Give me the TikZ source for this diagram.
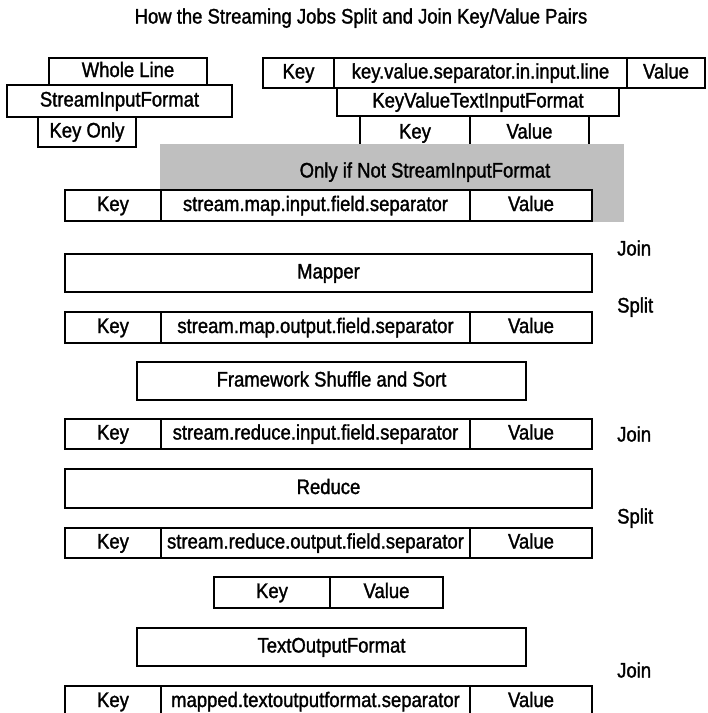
\documentclass[tikz,border=0pt]{standalone}
\usepackage{fontspec}
\setmainfont[FakeStretch=0.88,FakeBold=1.4]{Liberation Sans}
\usetikzlibrary{positioning}
\tikzset{cell/.style={rectangle,draw=black,fill=white,line width=1.6pt,inner sep=0pt,outer sep=0pt,align=center,text height=15pt,text depth=4pt,font=\fontsize{21}{23}\selectfont}}
\tikzset{side/.style={anchor=west,inner sep=0pt,text height=15pt,text depth=4pt,font=\fontsize{21}{23}\selectfont}}
\begin{document}
\begin{tikzpicture}[x=1pt,y=-1pt]
\useasboundingbox (0,0) rectangle (708,713);
\clip (0,0) rectangle (708,713);
\node at (361,18)[side,anchor=center](title){How the Streaming Jobs Split and Join Key/Value Pairs};
\node at (128,71.5)[cell,minimum width=158pt,minimum height=27pt](wl){Whole Line};
\node at (119.5,101)[cell,minimum width=225pt,minimum height=32pt](sif){StreamInputFormat};
\node at (87,132)[cell,minimum width=98pt,minimum height=30pt](ko){Key Only};
\node at (298.5,73)[cell,minimum width=71pt,minimum height=30pt](tk){Key};
\node[cell,minimum width=293pt,minimum height=30pt,right=0pt of tk](tsep){key.value.separator.in.input.line};
\node[cell,minimum width=78pt,minimum height=30pt,right=0pt of tsep](tv){Value};
\node at (415,133)[cell,minimum width=110pt,minimum height=34pt](kk){Key};
\node[cell,minimum width=119pt,minimum height=34pt,right=0pt of kk](kv){Value};
\node at (478,102)[cell,minimum width=282pt,minimum height=28pt](kvf){KeyValueTextInputFormat};
\fill[black!25] (160,144) rectangle (624,222);
\node at (425,172)[side,anchor=center](only){Only if Not StreamInputFormat};
\node at (113,205.5)[cell,minimum width=96pt,minimum height=31pt](k1){Key};
\node[cell,minimum width=309pt,minimum height=31pt,right=0pt of k1](s1){stream.map.input.field.separator};
\node[cell,minimum width=122pt,minimum height=31pt,right=0pt of s1](v1){Value};
\node at (328.5,273)[cell,minimum width=527pt,minimum height=38pt](map){Mapper};
\node at (113,327.5)[cell,minimum width=96pt,minimum height=31pt](k2){Key};
\node[cell,minimum width=309pt,minimum height=31pt,right=0pt of k2](s2){stream.map.output.field.separator};
\node[cell,minimum width=122pt,minimum height=31pt,right=0pt of s2](v2){Value};
\node at (331.5,381)[cell,minimum width=389pt,minimum height=38pt](fss){Framework Shuffle and Sort};
\node at (113,434)[cell,minimum width=96pt,minimum height=30pt](k3){Key};
\node[cell,minimum width=309pt,minimum height=30pt,right=0pt of k3](s3){stream.reduce.input.field.separator};
\node[cell,minimum width=122pt,minimum height=30pt,right=0pt of s3](v3){Value};
\node at (328.5,488.5)[cell,minimum width=527pt,minimum height=39pt](red){Reduce};
\node at (113,543)[cell,minimum width=96pt,minimum height=30pt](k4){Key};
\node[cell,minimum width=309pt,minimum height=30pt,right=0pt of k4](s4){stream.reduce.output.field.separator};
\node[cell,minimum width=122pt,minimum height=30pt,right=0pt of s4](v4){Value};
\node at (272,592.5)[cell,minimum width=116pt,minimum height=31pt](k5){Key};
\node[cell,minimum width=113pt,minimum height=31pt,right=0pt of k5](v5){Value};
\node at (331.5,647)[cell,minimum width=389pt,minimum height=38pt](tof){TextOutputFormat};
\node at (113,701.5)[cell,minimum width=96pt,minimum height=31pt](k6){Key};
\node[cell,minimum width=309pt,minimum height=31pt,right=0pt of k6](s6){mapped.textoutputformat.separator};
\node[cell,minimum width=122pt,minimum height=31pt,right=0pt of s6](v6){Value};
\node at (617,250)[side](j1){Join};
\node at (617,307)[side](sp1){Split};
\node at (617,436)[side](j2){Join};
\node at (617,518)[side](sp2){Split};
\node at (617,672)[side](j3){Join};
\end{tikzpicture}
\end{document}
